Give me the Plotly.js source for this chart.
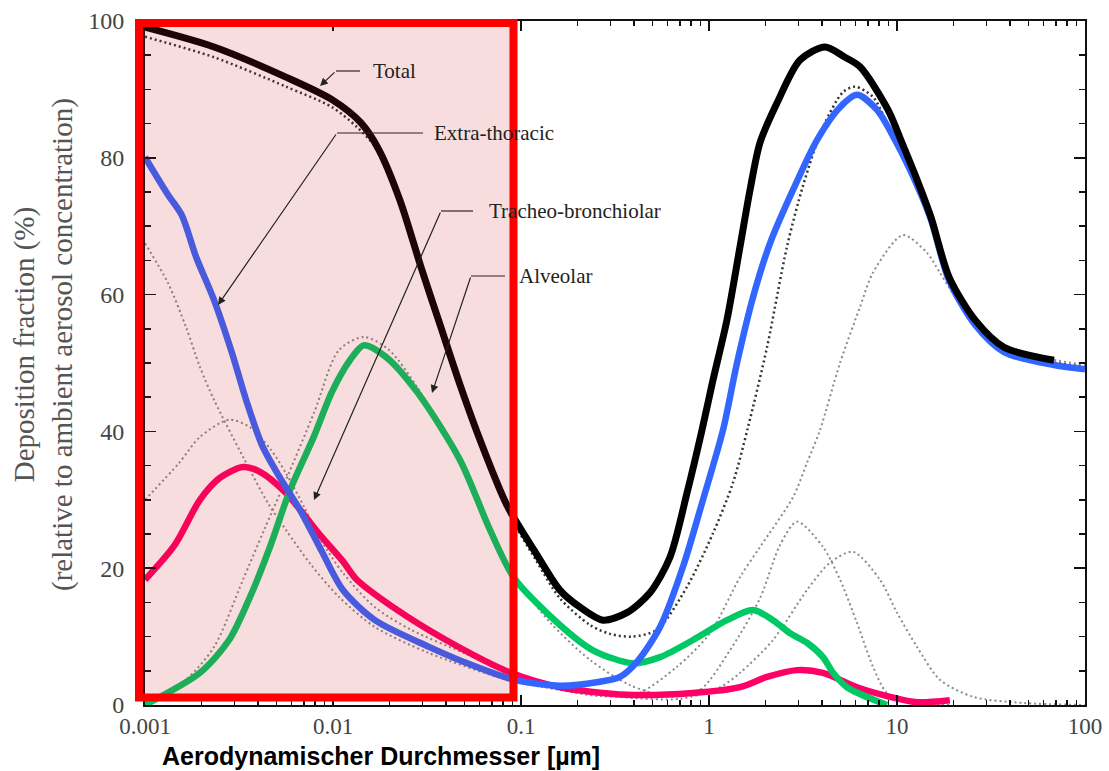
<!DOCTYPE html>
<html>
<head>
<meta charset="utf-8">
<script src="https://cdn.plot.ly/plotly-3.0.1.min.js"></script>
<style>html,body{margin:0;padding:0;background:#fff;}#chart{width:1109px;height:771px;}</style>
</head>
<body>
<div id="chart"></div>
<script>
// ---- data (aerodynamic diameter in µm, deposition fraction in %) ----
var totalX = [0.001,0.00233,0.00562,0.00988,0.0141,0.0176,0.0227,0.0294,0.0371,0.0474,0.062,0.0842,0.12,0.161,0.206,0.273,0.366,0.485,0.62,0.764,0.918,1.050,1.246,1.462,1.653,1.867,2.30,3.048,4.14,5.29,6.36,8.96,10.63,12.78,15.17,18.9,26.0,37.1,68.4];
var totalY = [99.1,96.2,91.8,88.5,85.1,81.1,73.8,64.0,55.6,46.8,38.0,29.2,22.2,16.8,14.3,12.4,13.5,16.4,21.6,31.0,40.2,47.5,56.3,67.0,75.3,82.2,88.0,94.3,96.2,94.7,93.3,87.0,82.2,76.8,71.3,62.6,56.3,52.3,50.4];

var etX = [0.001,0.001325,0.00157,0.00187,0.00233,0.0029,0.00345,0.00419,0.00523,0.00668,0.00863,0.0113,0.0167,0.0324,0.0497,0.0918,0.161,0.263,0.336,0.414,0.549,0.727,0.929,1.187,1.409,1.714,2.111,2.798,3.754,4.976,6.127,7.83,9.76,12.78,15.17,18.9,26.0,37.1,68.4,100];
var etY = [80.1,74.6,71.6,65.5,59.2,51.5,44.6,38.0,33.2,28.5,22.7,16.8,12.4,8.5,6.3,3.7,2.8,3.4,4.1,6.3,11.4,20.2,30.0,40.2,50.0,59.6,67.5,75.3,82.6,87.4,89.2,87.0,82.6,76.0,70.9,62.1,55.6,51.6,49.7,49.1];

var tbX = [0.001,0.00144,0.00196,0.0025,0.00332,0.00409,0.00562,0.0085,0.0113,0.0134,0.02085,0.0399,0.0885,0.161,0.366,0.822,1.462,2.035,2.94,4.04,6.13,9.18,12.78,19.1];
var tbY = [18.3,23.4,30.0,33.2,34.8,34.1,31.0,24.9,21.0,18.3,14.3,9.5,4.7,2.6,1.5,1.75,2.6,4.1,5.1,4.7,2.6,1.2,0.4,0.7];

var alX = [0.001,0.00196,0.0028,0.00362,0.00462,0.0059,0.0079,0.00988,0.0123,0.0146,0.0191,0.0283,0.0474,0.0684,0.0918,0.161,0.2415,0.394,0.549,0.822,1.246,1.714,2.19,2.70,3.32,4.04,4.57,5.42,8.85];
var alY = [0.0,4.7,9.5,15.8,23.1,31.4,39.2,45.8,50.4,52.6,50.9,45.6,35.8,25.6,18.6,11.7,8.0,6.1,7.0,9.5,12.4,13.9,12.4,10.5,9.1,7.0,4.7,2.6,0.0];

// dotted model curves
var totalModelX = [0.001,0.00233,0.00562,0.00988,0.0134,0.0167,0.0227,0.0294,0.0371,0.0474,0.062,0.0842,0.12,0.161,0.2328,0.297,0.389,0.529,0.764,1.05,1.342,1.612,2.035,2.599,3.162,4.042,5.162,5.979,7.453,8.955,10.63,12.78,15.17,18.9,26.0,37.1,68.4,100];
var totalModelY = [97.7,94.7,90.4,87.4,84.5,81.6,73.1,63.3,54.8,46.0,37.3,28.5,21.2,15.6,11.7,10.4,10.0,11.0,17.3,25.1,32.5,40.6,52.3,67.0,75.9,84.5,89.6,90.4,88.9,84.8,81.1,76.0,70.6,61.8,55.3,51.9,50.1,49.4];

var etModelX = [0.001,0.001325,0.00165,0.00196,0.00233,0.00332,0.00451,0.00562,0.00764,0.01076,0.0167,0.0324,0.0842,0.161,0.263,0.414,0.676,1.012,1.462,1.867,2.80,3.32,3.894,4.976,6.358,7.45,10.76,14.44,16.9,20.9,25.4,35.3,57.6,100];
var etModelY = [67.5,61.7,55.3,49.4,44.6,36.3,29.5,25.6,20.5,15.8,11.4,7.6,3.7,2.2,1.3,1.6,5.6,10.5,18.7,23.1,30.4,35.4,40.2,50.0,58.2,63.2,68.7,66.1,63.2,59.2,55.8,52.9,50.9,49.7];

var tbModelX = [0.001,0.00152,0.00196,0.0028,0.00362,0.00468,0.00562,0.00701,0.00863,0.0113,0.0167,0.026,0.0497,0.0885,0.161,0.336,0.701,1.144,1.462,2.19,3.32,4.40,5.83,8.12,10.0,12.78,16.9,25.4,46.8,100];
var tbModelY = [30.0,35.4,39.2,41.7,40.6,37.3,33.9,29.0,24.1,19.3,14.3,11.0,7.6,4.7,2.6,1.2,0.9,2.6,4.7,9.5,16.8,20.8,22.4,18.3,13.5,8.5,3.7,1.2,0.3,0.0];

var alModelX = [0.001,0.00165,0.00233,0.00332,0.0043,0.00562,0.00792,0.01076,0.01462,0.01986,0.0283,0.0474,0.0684,0.0918,0.1426,0.2328,0.38,0.62,0.896,1.293,1.867,2.387,2.94,4.04,4.98,6.13,7.45,8.85,11.7,19.1];
var alModelY = [0.0,3.7,8.5,18.3,25.6,32.9,42.7,51.9,53.8,51.9,46.3,35.8,25.6,19.0,12.1,6.6,2.9,1.2,2.2,8.0,15.6,23.4,26.8,23.1,18.3,12.0,5.6,1.75,0.3,0.0];

// axis ticks
var xTickVals = [0.001,0.01,0.1,1,10,100];
var xTickText = ['0.001','0.01','0.1','1','10','100'];
var yTickVals = [0,20,40,60,80,100];

var labels = ['Total','Extra-thoracic','Tracheo-bronchiolar','Alveolar'];
var xTitle = 'Aerodynamischer Durchmesser [µm]';
var yTitle = 'Deposition fraction (%)<br>(relative to ambient aerosol concentration)';

// minor log ticks 2..9 in each decade
var xMinor = [];
[0.001,0.01,0.1,1,10].forEach(function(d){ for (var k=2;k<=9;k++) xMinor.push(d*k); });

// ---- chart ----
function dotted(x, y, color, w) {
  return {x:x, y:y, type:'scatter', mode:'lines', hoverinfo:'skip',
          line:{color:color, width:w, dash:'2px,3px', shape:'spline', smoothing:0.8}};
}
function solid(x, y, color, w) {
  return {x:x, y:y, type:'scatter', mode:'lines', hoverinfo:'skip',
          line:{color:color, width:w, shape:'spline', smoothing:0.8}};
}

var traces = [
  dotted(etModelX, etModelY, '#8a8a8a', 2),
  dotted(tbModelX, tbModelY, '#8a8a8a', 2),
  dotted(alModelX, alModelY, '#8a8a8a', 2),
  dotted(totalModelX, totalModelY, '#333333', 2.5),
  solid(tbX, tbY, '#ff0066', 6.5),
  solid(alX, alY, '#00c864', 6.5),
  solid(etX, etY, '#3366ff', 6.5),
  solid(totalX, totalY, '#000000', 7)
];

// pixel -> paper helpers (plot area: x 145..1085, y 21..705)
function px(p){ return (p-145)/940; }
function py(p){ return (705-p)/684; }

var serif = 'Liberation Serif, Times New Roman, serif';
var annots = [];
var shapes = [];
var callouts = [
  {text:labels[0], tx:371, ty:71, lineFrom:360, bendX:336, bendY:71, tipX:320, tipY:86},
  {text:labels[1], tx:432, ty:133, lineFrom:423, bendX:337, bendY:133, tipX:218, tipY:305},
  {text:labels[2], tx:487, ty:211, lineFrom:473, bendX:441, bendY:211, tipX:314, tipY:500},
  {text:labels[3], tx:517, ty:276, lineFrom:505, bendX:471, bendY:276, tipX:432, tipY:393}
];
callouts.forEach(function(c){
  annots.push({xref:'paper', yref:'paper', x:px(c.tx), y:py(c.ty), xanchor:'left', yanchor:'middle',
               text:c.text, showarrow:false, font:{family:serif, size:21, color:'#222'}});
  annots.push({xref:'paper', yref:'paper', x:px(c.tipX), y:py(c.tipY), text:'', showarrow:true,
               ax:c.bendX-c.tipX, ay:c.bendY-c.tipY, axref:'pixel', ayref:'pixel',
               arrowhead:2, arrowsize:1.3, arrowwidth:1.2, arrowcolor:'#222', standoff:0, startstandoff:0});
  shapes.push({type:'line', xref:'paper', yref:'paper', x0:px(c.bendX), y0:py(c.bendY), x1:px(c.lineFrom), y1:py(c.bendY),
               line:{color:'#222', width:1.2}, layer:'above'});
});

// y axis title as rotated annotation
annots.push({xref:'paper', yref:'paper', x:px(43), y:py(345), xanchor:'center', yanchor:'middle',
             text:yTitle, textangle:-90, showarrow:false, font:{family:serif, size:29, color:'#555'}});
// x axis title
annots.push({xref:'paper', yref:'paper', x:px(160), y:py(756), xanchor:'left', yanchor:'middle',
             text:'<b>' + xTitle + '</b>', showarrow:false,
             font:{family:'Liberation Sans, Arial, sans-serif', size:25, color:'#000'}});

// red highlight rectangle
shapes.push({type:'rect', xref:'paper', yref:'paper', x0:px(139), x1:px(513.5), y0:py(697.5), y1:py(23),
             line:{color:'#ff0000', width:8}, fillcolor:'rgba(200,30,30,0.15)', layer:'above'});

var layout = {
  width:1109, height:771,
  margin:{l:145, r:24, t:21, b:66, pad:0},
  paper_bgcolor:'#ffffff', plot_bgcolor:'#ffffff',
  showlegend:false,
  xaxis:{type:'log', range:[-3,2], tickvals:xTickVals, ticktext:xTickText,
         ticks:'inside', ticklen:10, tickwidth:1.5, tickcolor:'#111',
         showline:true, linecolor:'#111', linewidth:2, mirror:'ticks',
         showgrid:false, zeroline:false, ticklabelstandoff:-1,
         tickfont:{family:serif, size:23, color:'#444'},
         minor:{tickvals:xMinor, ticks:'inside', ticklen:5, tickwidth:1.5, tickcolor:'#111', showgrid:false}},
  yaxis:{range:[0,100], tickvals:yTickVals, ticks:'inside', ticklen:11, tickwidth:1.5, tickcolor:'#111',
         showline:true, linecolor:'#111', linewidth:2, mirror:'ticks',
         showgrid:false, zeroline:false, ticklabelstandoff:14,
         tickfont:{family:serif, size:24, color:'#444'},
         minor:{dtick:5, ticks:'inside', ticklen:6, tickwidth:1.5, tickcolor:'#111', showgrid:false}},
  annotations:annots,
  shapes:shapes
};

Plotly.newPlot('chart', traces, layout, {displayModeBar:false, staticPlot:true});
</script>
</body>
</html>
